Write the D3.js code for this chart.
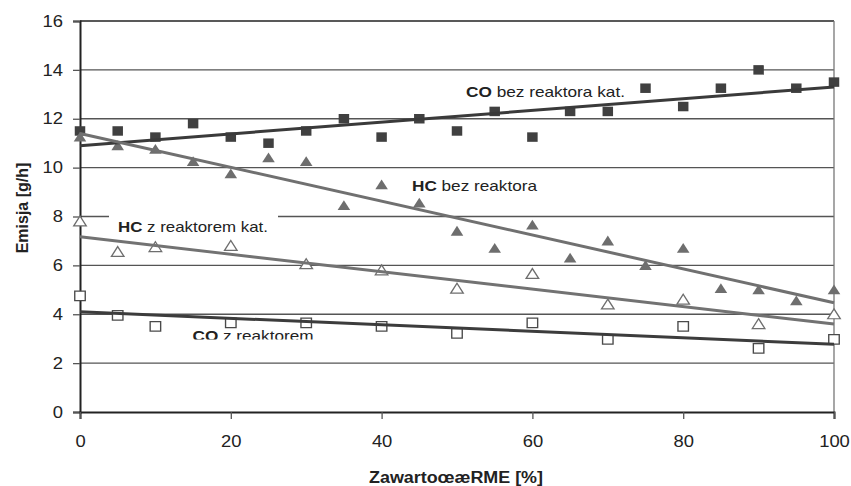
<!DOCTYPE html>
<html>
  <meta charset="utf-8" />
  <head>
    <script src="https://d3js.org/d3.v7.min.js"></script>
    <style>
      body {
        margin: 0;
        background: #fff;
      }
      svg text {
        font-family: "Liberation Sans", Arial, sans-serif;
        fill: #222;
      }
    </style>
  </head>
  <body>
    <svg id="chart" width="851" height="486"></svg>

    <script>
      // x values (RME content, %)
      const xFull = [0, 5, 10, 15, 20, 25, 30, 35, 40, 45, 50, 55, 60, 65, 70, 75, 80, 85, 90, 95, 100];
      const xSparse = [0, 5, 10, 20, 30, 40, 50, 60, 70, 80, 90, 100];

      // emissions g/h
      const coBez = [11.5, 11.5, 11.25, 11.8, 11.25, 11.0, 11.5, 12.0, 11.25, 12.0, 11.5, 12.3, 11.25, 12.3, 12.3, 13.25, 12.5, 13.25, 14.0, 13.25, 13.5];
      const hcBez = [11.2, 10.85, 10.7, 10.2, 9.7, 10.35, 10.2, 8.4, 9.25, 8.5, 7.35, 6.65, 7.6, 6.25, 6.95, 5.95, 6.65, 5.0, 4.95, 4.5, 4.95];
      const hcZ = [7.75, 6.5, 6.7, 6.75, 6.0, 5.75, 5.0, 5.6, 4.35, 4.55, 3.55, 3.95];
      const coZ = [4.75, 3.95, 3.5, 3.65, 3.65, 3.5, 3.22, 3.65, 2.97, 3.5, 2.6, 2.97];

      // trend lines (value at x=0 and x=100)
      const trendX = [0, 100];
      const coBezTrend = [10.9, 13.3];
      const hcBezTrend = [11.4, 4.47];
      const hcZTrend = [7.17, 3.6];
      const coZTrend = [4.1, 2.77];

      const xTicks = [0, 20, 40, 60, 80, 100];
      const yTicks = [0, 2, 4, 6, 8, 10, 12, 14, 16];

      const margin = { left: 80, right: 17, top: 21, bottom: 74 };
      const W = 851, H = 486;
      const width = W - margin.left - margin.right;
      const height = H - margin.top - margin.bottom;
      const stretch = 1.15; // the picture is a bit wider than tall

      const x = d3.scaleLinear().domain([0, 100]).range([0, width]);
      const y = d3.scaleLinear().domain([0, 16]).range([height, 0]);

      const svg = d3.select("#chart");
      const g = svg.append("g").attr("transform", `translate(${margin.left},${margin.top})`);

      // grid
      g.selectAll(".grid")
        .data(yTicks.filter((d) => d > 0 && d < 16))
        .enter()
        .append("line")
        .attr("x1", 0)
        .attr("x2", width)
        .attr("y1", (d) => y(d))
        .attr("y2", (d) => y(d))
        .attr("stroke", "#555")
        .attr("stroke-width", 1.3);

      g.append("line")
        .attr("x1", 0).attr("x2", width)
        .attr("y1", y(16)).attr("y2", y(16))
        .attr("stroke", "#222").attr("stroke-width", 1.5);
      g.append("line")
        .attr("x1", x(100)).attr("x2", x(100))
        .attr("y1", y(16)).attr("y2", y(0))
        .attr("stroke", "#777").attr("stroke-width", 1.3);

      // axes
      const yAxis = g.append("g").call(d3.axisLeft(y).tickValues(yTicks).tickSize(7).tickPadding(10));
      const xAxis = g
        .append("g")
        .attr("transform", `translate(0,${height})`)
        .call(d3.axisBottom(x).tickValues(xTicks).tickSize(7).tickPadding(17));

      [yAxis, xAxis].forEach((a) => {
        a.select(".domain").attr("stroke", "#222").attr("stroke-width", 2);
        a.selectAll(".tick line").attr("stroke", "#555").attr("stroke-width", 1.3);
        a.selectAll("text").style("font-size", "16px").attr("fill", "#222");
      });
      yAxis.selectAll("text").attr("x", 0).attr("transform", `translate(-17,0) scale(${stretch},1)`);
      xAxis.selectAll("text").attr("transform", `scale(${stretch},1)`);

      // markers
      const sq = d3.symbol().type(d3.symbolSquare).size(100);
      const tri = d3.symbol().type(d3.symbolTriangle).size(62);

      function markers(xs, ys, path, fill, stroke) {
        g.append("g")
          .selectAll("path")
          .data(xs.map((d, i) => [d, ys[i]]))
          .enter()
          .append("path")
          .attr("d", path)
          .attr("transform", (d) => `translate(${x(d[0])},${y(d[1])}) scale(1.05,0.95)`)
          .attr("fill", fill)
          .attr("stroke", stroke)
          .attr("stroke-width", 1.3);
      }

      markers(xFull, coBez, sq, "#404040", "none");
      markers(xFull, hcBez, tri, "#6e6e6e", "none");
      markers(xSparse, hcZ, tri, "#fff", "#6e6e6e");
      markers(xSparse, coZ, sq, "#fff", "#4a4a4a");

      // trend lines
      const line = d3.line().x((d) => x(d[0])).y((d) => y(d[1]));
      function trend(vals, color) {
        g.append("path")
          .datum(trendX.map((d, i) => [d, vals[i]]))
          .attr("d", line)
          .attr("fill", "none")
          .attr("stroke", color)
          .attr("stroke-width", 3);
      }
      trend(coBezTrend, "#3a3a3a");
      trend(hcBezTrend, "#707070");
      trend(hcZTrend, "#727272");
      trend(coZTrend, "#3c3c3c");

      // series labels
      svg.append("defs")
        .append("clipPath")
        .attr("id", "clipCO")
        .append("rect")
        .attr("x", 150).attr("y", 300).attr("width", 220).attr("height", 39.5);

      // white box behind HC z label
      svg.append("rect")
        .attr("x", 109).attr("y", 212).attr("width", 169).attr("height", 23)
        .attr("fill", "#fff");

      function label(bold, rest, lx, ly, len, clip) {
        const t = svg
          .append("text")
          .attr("x", lx)
          .attr("y", ly)
          .attr("textLength", len)
          .attr("lengthAdjust", "spacingAndGlyphs")
          .style("font-size", "14.5px");
        t.append("tspan").attr("font-weight", "bold").text(bold);
        t.append("tspan").text(" " + rest);
        if (clip) t.attr("clip-path", "url(#clipCO)");
      }
      label("CO", "bez reaktora kat.", 466, 96.5, 159);
      label("HC", "bez reaktora", 412, 190.5, 125);
      label("HC", "z reaktorem kat.", 118, 231.5, 150);
      label("CO", "z reaktorem", 192.5, 340.5, 121, true);

      // axis titles
      svg.append("text")
        .attr("transform", "translate(28,208) rotate(-90)")
        .attr("text-anchor", "middle")
        .attr("font-weight", "bold")
        .style("font-size", "16px")
        .text("Emisja [g/h]");

      svg.append("text")
        .attr("x", 369)
        .attr("y", 483)
        .attr("textLength", 174)
        .attr("lengthAdjust", "spacingAndGlyphs")
        .attr("font-weight", "bold")
        .style("font-size", "16px")
        .text("ZawartoœæRME [%]");
    </script>
  </body>
</html>
